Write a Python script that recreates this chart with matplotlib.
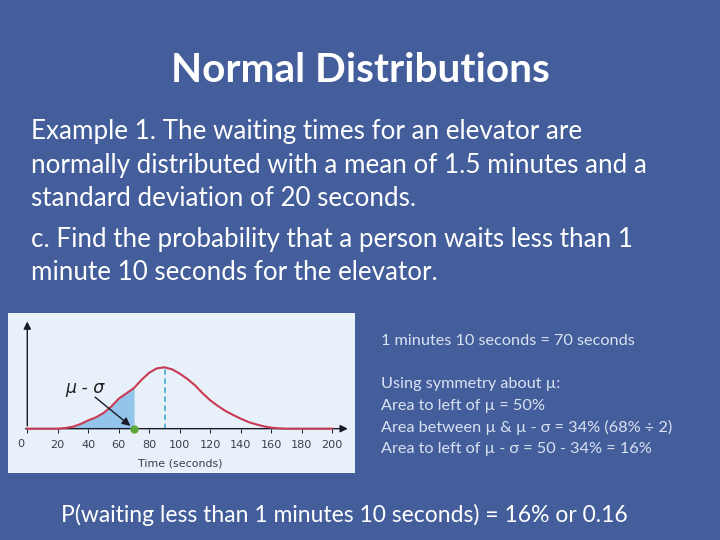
import matplotlib
matplotlib.use("Agg")
import matplotlib.pyplot as plt
import numpy as np

BG = "#445E9B"
time_s = [0, 10, 20, 25, 30, 35, 40, 45, 50, 55, 60, 65, 70, 75, 80, 85, 90, 95, 100, 105, 110,
          115, 120, 125, 130, 135, 140, 145, 150, 155, 160, 165, 170, 180, 190, 200]
density = [0, 0, 0, 2, 6, 14, 25, 34, 47, 66, 90, 106, 122, 147, 168, 181, 184, 178, 165, 149, 130,
           106, 85, 68, 53, 41, 30, 20, 13, 7, 3, 1, 0, 0, 0, 0]
shade_x = [30, 35, 40, 45, 50, 55, 60, 65, 70]
shade_y = [6, 14, 25, 34, 47, 66, 90, 106, 122]
ticks = [20, 40, 60, 80, 100, 120, 140, 160, 180, 200]
mean_x, mean_y = 90, 184
cut_x = 70

title = "Normal Distributions"
body = [
    ("Example 1. The waiting times for an elevator are", 132),
    ("normally distributed with a mean of 1.5 minutes and a", 165),
    ("standard deviation of 20 seconds.", 199),
    ("c. Find the probability that a person waits less than 1", 239),
    ("minute 10 seconds for the elevator.", 273),
]
side = [
    ("1 minutes 10 seconds = 70 seconds", 341),
    ("Using symmetry about µ:", 384),
    ("Area to left of µ = 50%", 406),
    ("Area between µ & µ - σ = 34% (68% ÷ 2)", 427),
    ("Area to left of µ - σ = 50 - 34% = 16%", 449),
]
answer = "P(waiting less than 1 minutes 10 seconds) = 16% or 0.16"

plt.rcParams['font.family'] = ['Lato', 'DejaVu Sans']
fig = plt.figure(figsize=(7.2, 5.4), dpi=100, facecolor=BG)
bg = fig.add_axes([0, 0, 1, 1])
bg.set_xlim(0, 720); bg.set_ylim(540, 0); bg.axis("off")

bg.text(360, 71, title, ha="center", va="center", fontsize=29.2, fontweight="bold", color="#FFFFFF")
for s, y in body:
    bg.text(31, y, s, ha="left", va="center", fontsize=18.75, color="#FFFFFF")
for s, y in side:
    bg.text(381, y, s, ha="left", va="center", fontsize=11.7, color="#D9E2F2")
bg.text(61, 515, answer, ha="left", va="center", fontsize=16.5, color="#FFFFFF")

ax = fig.add_axes([8/720, 1-473/540, 347/720, 160/540], facecolor="#E8F0FA")
ax.set_xlim(-12.66, 214.9); ax.set_ylim(-133, 347)
for sp in ax.spines.values():
    sp.set_visible(False)
ax.set_xticks([]); ax.set_yticks([])

ax.fill_between(shade_x, 0, shade_y, color="#93C5EA", lw=0, zorder=1)
ax.plot(time_s, density, color="#C93A55", lw=1.5, zorder=3)
ax.plot([mean_x, mean_x], [0, mean_y], color="#4DB2D6", lw=1.3, ls=(0, (3, 2)), zorder=2)
ax.annotate("", xy=(212, 0), xytext=(-3, 0),
            arrowprops=dict(arrowstyle="-|>", color="#1A1A2A", lw=1, mutation_scale=11), zorder=2)
ax.annotate("", xy=(0, 330), xytext=(0, 0),
            arrowprops=dict(arrowstyle="-|>", color="#1A1A2A", lw=1, mutation_scale=11), zorder=2)
ax.vlines([0] + ticks, -12, 0, color="#1A1A2A", lw=0.7, zorder=2)
for t in ticks:
    ax.text(t, -50, str(t), ha="center", va="center", fontsize=8.1, color="#3A3F4A", family="DejaVu Sans")
ax.text(-4, -46, "0", ha="center", va="center", fontsize=8.1, color="#3A3F4A", family="DejaVu Sans")
ax.text(100, -105, "Time (seconds)", ha="center", va="center", fontsize=7.9, color="#3A3F4A", family="DejaVu Sans")
ax.text(38, 122, "µ - σ", ha="center", va="center", fontsize=12.5, color="#222222", style="italic", family="DejaVu Sans")
ax.annotate("", xy=(cut_x - 1, 3), xytext=(43, 100),
            arrowprops=dict(arrowstyle="-|>", color="#1A1A2A", lw=1, mutation_scale=12), zorder=4)
ax.plot([cut_x], [0], "o", color="#5FA83C", ms=5, zorder=5, clip_on=False)

fig.savefig("out.png", dpi=100, facecolor=BG)
